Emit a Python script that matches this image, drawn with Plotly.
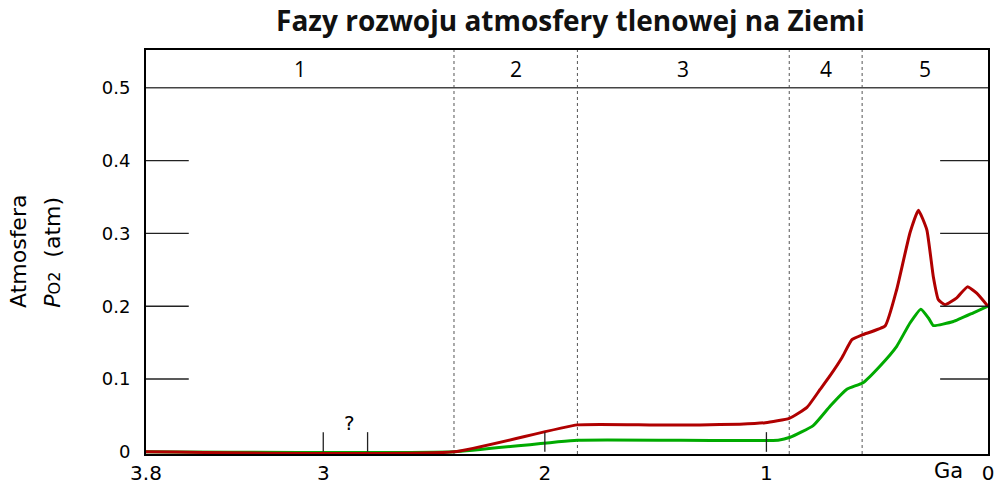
import plotly.graph_objects as go

# time in Ga (billions of years ago), pO2 in atm
red_ga = [3.8, 2.41, 1.853, 1.52, 1.3, 1.12, 1.005, 0.897, 0.817, 0.757, 0.712, 0.658,
          0.614, 0.564, 0.464, 0.412, 0.352, 0.314, 0.276, 0.247, 0.224, 0.194,
          0.141, 0.093, 0.051, 0.0]
red_po2 = [0.0, 0.0, 0.037, 0.037, 0.037, 0.038, 0.040, 0.046, 0.061, 0.086, 0.105, 0.13,
           0.154, 0.161, 0.173, 0.223, 0.301, 0.332, 0.305, 0.241, 0.209, 0.202,
           0.2115, 0.2266, 0.218, 0.2]

green_ga = [3.8, 2.41, 1.853, 0.947, 0.893, 0.789, 0.712, 0.637, 0.564, 0.487, 0.412,
            0.352, 0.303, 0.269, 0.247, 0.156, 0.066, 0.0]
green_po2 = [0.0, 0.0, 0.016, 0.016, 0.02, 0.036, 0.063, 0.086, 0.095, 0.118, 0.145,
             0.177, 0.196, 0.184, 0.1735, 0.179, 0.191, 0.2]

# phase boundaries (Ga) and labels
stage_bounds = [3.8, 2.41, 1.853, 0.897, 0.568, 0.0]
stage_labels = ['1', '2', '3', '4', '5']

x_ticks = [3.8, 3, 2, 1, 0]
y_ticks = [0, 0.1, 0.2, 0.3, 0.4, 0.5]
mark_ga = [3, 2.8, 2, 1]

red = '#b00000'
green = '#00aa00'
dark = '#222222'

fig = go.Figure()

fig.add_trace(go.Scatter(x=green_ga, y=green_po2, mode='lines',
                         line=dict(color=green, width=3, shape='spline', smoothing=0.4),
                         showlegend=False, hoverinfo='skip'))
fig.add_trace(go.Scatter(x=red_ga, y=red_po2, mode='lines',
                         line=dict(color=red, width=3, shape='spline', smoothing=0.4),
                         showlegend=False, hoverinfo='skip'))

# dotted phase boundaries
for b in stage_bounds[1:-1]:
    fig.add_shape(type='line', x0=b, x1=b, y0=0, y1=1, xref='x', yref='paper',
                  line=dict(color='#555555', width=1, dash='dot'), layer='below')

# header band line at 0.5
fig.add_shape(type='line', x0=0, x1=1, xref='paper', y0=0.5, y1=0.5, yref='y',
              line=dict(color='#444444', width=1.5))

# short grid stubs on both sides
for v in y_ticks[1:-1]:
    fig.add_shape(type='line', x0=3.8, x1=3.607, y0=v, y1=v,
                  line=dict(color=dark, width=1.3))
    fig.add_shape(type='line', x0=0.216, x1=0, y0=v, y1=v,
                  line=dict(color=dark, width=1.3))

# small vertical marks on the baseline
for m in mark_ga:
    fig.add_shape(type='line', x0=m, x1=m, y0=0, y1=0.027,
                  line=dict(color=dark, width=1.3))
fig.add_annotation(x=2.88, y=0.04, text='?', showarrow=False,
                   font=dict(family='DejaVu Sans', size=20, color='black'))

# stage numbers
for i, lab in enumerate(stage_labels):
    fig.add_annotation(x=(stage_bounds[i] + stage_bounds[i + 1]) / 2, y=0.526,
                       text=lab, showarrow=False,
                       font=dict(family='Open Sans', size=21, color='black'))

fig.add_annotation(x=0.18, y=-0.042, xref='x', yref='paper', text='Ga',
                   showarrow=False, yanchor='middle',
                   font=dict(family='DejaVu Sans', size=21, color='black'))

# y axis title, two lines
fig.add_annotation(x=-0.152, y=0.5, xref='paper', yref='paper', text='Atmosfera',
                   textangle=-90, showarrow=False, xanchor='center',
                   font=dict(family='DejaVu Sans', size=22, color='black'))
fig.add_annotation(x=-0.112, y=0.5, xref='paper', yref='paper',
                   text="<i>P</i><span style='font-size:16px'>O2</span>  (atm)",
                   textangle=-90, showarrow=False, xanchor='center',
                   font=dict(family='DejaVu Sans', size=22, color='black'))

fig.update_layout(
    width=1006, height=497,
    margin=dict(l=146, r=12, t=50, b=35),
    paper_bgcolor='white', plot_bgcolor='white',
    title=dict(text='<b>Fazy rozwoju atmosfery tlenowej na Ziemi</b>',
               x=0.567, xanchor='center', y=0.958, yanchor='middle',
               font=dict(family='Open Sans', size=28, color='#111111')),
    showlegend=False,
)

fig.update_xaxes(range=[3.8, 0], tickvals=x_ticks, ticktext=['3.8', '3', '2', '1', '0'],
                 showgrid=False, zeroline=False, showline=True, mirror=True,
                 linecolor='black', linewidth=2, ticks='',
                 tickfont=dict(family='DejaVu Sans', size=20, color='black'))
fig.update_yaxes(range=[-0.003, 0.552], tickvals=y_ticks,
                 ticktext=['0', '0.1', '0.2', '0.3', '0.4', '0.5'],
                 showgrid=False, zeroline=False, showline=True, mirror=True,
                 linecolor='black', linewidth=2, ticks='', ticklabelstandoff=10,
                 tickfont=dict(family='DejaVu Sans', size=18, color='black'))

page_fix = ("document.body.style.margin='0';"
            "document.body.style.overflow='hidden';"
            "document.documentElement.style.overflow='hidden';")
fig.write_html('out.html', config={'displayModeBar': False}, post_script=page_fix)
